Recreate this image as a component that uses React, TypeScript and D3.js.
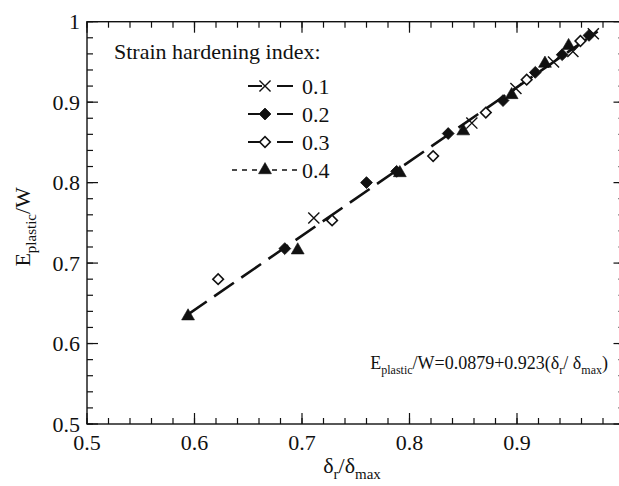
import React from "react";
import * as d3 from "d3";

const xTicksMajor = [0.5, 0.6, 0.7, 0.8, 0.9, 1.0];
const xTickLabels = ["0.5", "0.6", "0.7", "0.8", "0.9", ""];
const yTicksMajor = [0.5, 0.6, 0.7, 0.8, 0.9, 1.0];
const yTickLabels = ["0.5", "0.6", "0.7", "0.8", "0.9", "1"];

const legendLabels = ["0.1", "0.2", "0.3", "0.4"];

const s01x = [0.711, 0.858, 0.899, 0.934, 0.952, 0.971];
const s01y = [0.756, 0.874, 0.917, 0.95, 0.963, 0.985];
const s02x = [0.684, 0.76, 0.788, 0.836, 0.887, 0.917, 0.942, 0.967];
const s02y = [0.718, 0.8, 0.814, 0.861, 0.902, 0.937, 0.959, 0.983];
const s03x = [0.622, 0.728, 0.822, 0.871, 0.909, 0.959];
const s03y = [0.68, 0.753, 0.833, 0.887, 0.928, 0.976];
const s04x = [0.594, 0.696, 0.791, 0.85, 0.895, 0.926, 0.948];
const s04y = [0.634, 0.716, 0.812, 0.864, 0.909, 0.948, 0.97];

const fitIntercept = 0.0879;
const fitSlope = 0.923;
const fitRange = [0.593, 0.975];

const W = 619;
const H = 486;
const FONT = "'Liberation Serif', 'DejaVu Serif', serif";

export default function App() {
  const x = d3.scaleLinear().domain([0.5, 1.0]).range([87, 624.5]);
  const y = d3.scaleLinear().domain([0.5, 1.0]).range([424, 21.7]);
  const [x0, x1] = x.range();
  const [y0, y1] = y.range();

  const minorX = d3.range(0.5, 1.0001, 0.02).map((v) => +v.toFixed(2));
  const minorY = d3.range(0.5, 1.0001, 0.02).map((v) => +v.toFixed(2));

  const crossPath = d3.symbol(d3.symbolX, 82)()!;
  const diamondFilled = d3.symbol(d3.symbolSquare, 70)()!;
  const diamondOpen = d3.symbol(d3.symbolSquare, 56)()!;
  const triPath = d3.symbol(d3.symbolTriangle, 72)()!;

  const fitLine = d3
    .line<number>()
    .x((v) => x(v))
    .y((v) => y(fitIntercept + fitSlope * v));

  const col = "#111";

  const marker = (kind: number, cx: number, cy: number, key: string) => {
    if (kind === 0)
      return (
        <path key={key} d={crossPath} transform={`translate(${cx},${cy})`} fill="none" stroke={col} strokeWidth={1.4} />
      );
    if (kind === 1)
      return <path key={key} d={diamondFilled} transform={`translate(${cx},${cy}) rotate(45)`} fill={col} stroke={col} strokeWidth={0.8} />;
    if (kind === 2)
      return (
        <path key={key} d={diamondOpen} transform={`translate(${cx},${cy}) rotate(45)`} fill="#fff" stroke={col} strokeWidth={1.6} />
      );
    return <path key={key} d={triPath} transform={`translate(${cx},${cy})`} fill={col} stroke={col} strokeWidth={0.6} />;
  };

  const series = [
    { xs: s01x, ys: s01y, kind: 0 },
    { xs: s02x, ys: s02y, kind: 1 },
    { xs: s03x, ys: s03y, kind: 2 },
    { xs: s04x, ys: s04y, kind: 3 },
  ];

  const legendX = 265;
  const legendY0 = 86;
  const legendDy = 28;

  return (
    <svg width={W} height={H} style={{ position: "absolute", left: 0, top: 0, overflow: "hidden" }} fontFamily={FONT}>
      <rect x={0} y={0} width={W} height={H} fill="#fff" />
      {/* frame */}
      <rect x={x0} y={y1} width={x1 - x0} height={y0 - y1} fill="none" stroke={col} strokeWidth={1.4} />
      {/* minor ticks */}
      {minorX.map((v) => (
        <g key={"mx" + v}>
          <line x1={x(v)} x2={x(v)} y1={y0} y2={y0 - 6} stroke={col} strokeWidth={1.2} />
          <line x1={x(v)} x2={x(v)} y1={y1} y2={y1 + 6} stroke={col} strokeWidth={1.2} />
        </g>
      ))}
      {minorY.map((v) => (
        <g key={"my" + v}>
          <line x1={x0} x2={x0 + 6} y1={y(v)} y2={y(v)} stroke={col} strokeWidth={1.2} />
          <line x1={x1} x2={x1 - 6} y1={y(v)} y2={y(v)} stroke={col} strokeWidth={1.2} />
        </g>
      ))}
      {xTicksMajor.map((v, i) => (
        <g key={"Mx" + v}>
          <line x1={x(v)} x2={x(v)} y1={y0} y2={y0 - 11} stroke={col} strokeWidth={1.2} />
          <line x1={x(v)} x2={x(v)} y1={y1} y2={y1 + 11} stroke={col} strokeWidth={1.2} />
          {xTickLabels[i] && (
            <text x={x(v)} y={450} textAnchor="middle" fontSize={22} fill={col}>
              {xTickLabels[i]}
            </text>
          )}
        </g>
      ))}
      {yTicksMajor.map((v, i) => (
        <g key={"My" + v}>
          <line x1={x0} x2={x0 + 11} y1={y(v)} y2={y(v)} stroke={col} strokeWidth={1.2} />
          <line x1={x1} x2={x1 - 11} y1={y(v)} y2={y(v)} stroke={col} strokeWidth={1.2} />
          <text x={80} y={y(v) + 7.5} textAnchor="end" fontSize={22} fill={col}>
            {yTickLabels[i]}
          </text>
        </g>
      ))}

      {/* fit line */}
      <path d={fitLine(fitRange)!} fill="none" stroke={col} strokeWidth={2.6} strokeDasharray="24,9" />

      {/* markers */}
      {series.map((s, si) => s.xs.map((v, i) => marker(s.kind, x(v), y(s.ys[i]), `m${si}-${i}`)))}

      {/* legend */}
      <text x={114} y={59} fontSize={22} fill={col}>
        Strain hardening index:
      </text>
      {legendLabels.map((lab, i) => {
        const ly = legendY0 + i * legendDy;
        return (
          <g key={"lg" + i}>
            {i < 3 ? (
              <>
                <line x1={248} x2={262} y1={ly} y2={ly} stroke={col} strokeWidth={2} />
                <line x1={277} x2={293} y1={ly} y2={ly} stroke={col} strokeWidth={2} />
              </>
            ) : (
              <line x1={232} x2={298} y1={ly} y2={ly} stroke={col} strokeWidth={1.6} strokeDasharray="5,5" />
            )}
            {marker(i, legendX, ly, "lm" + i)}
            <text x={302} y={ly + 8} fontSize={22} fill={col}>
              {lab}
            </text>
          </g>
        );
      })}

      {/* equation */}
      <text x={608} y={369} textAnchor="end" fontSize={18} fill={col}>
        E<tspan dy={5} fontSize={12}>plastic</tspan>
        <tspan dy={-5}>/W=0.0879+0.923(δ</tspan>
        <tspan dy={5} fontSize={12}>r</tspan>
        <tspan dy={-5}>/ δ</tspan>
        <tspan dy={5} fontSize={12}>max</tspan>
        <tspan dy={-5}>)</tspan>
      </text>

      {/* axis titles */}
      <text x={352} y={473} textAnchor="middle" fontSize={22} fill={col}>
        δ<tspan dy={6} fontSize={15}>r</tspan>
        <tspan dy={-6}>/δ</tspan>
        <tspan dy={6} fontSize={15}>max</tspan>
      </text>
      <text transform={`translate(30,${(y0 + y1) / 2 + 4}) rotate(-90)`} textAnchor="middle" fontSize={22} fill={col}>
        E<tspan dy={6} fontSize={15}>plastic</tspan>
        <tspan dy={-6}>/W</tspan>
      </text>
    </svg>
  );
}
